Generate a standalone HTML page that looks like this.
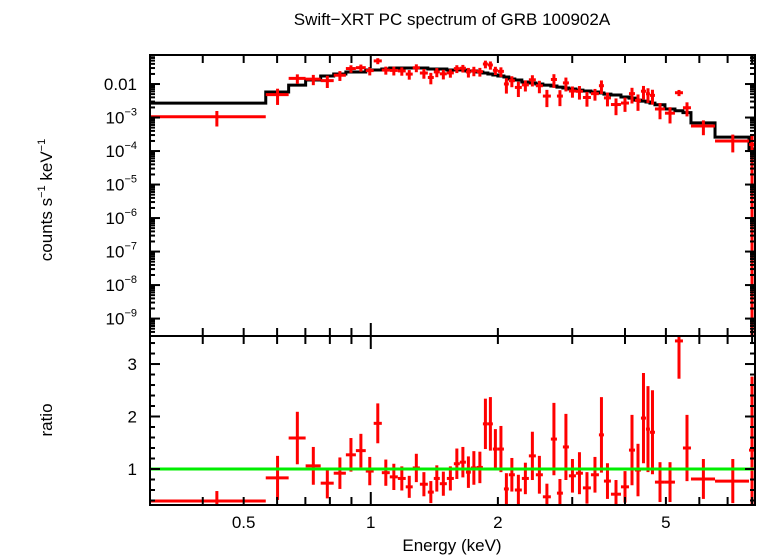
<!DOCTYPE html>
<html><head><meta charset="utf-8"><style>
html,body{margin:0;padding:0;background:#fff;}
svg{display:block;font-family:"Liberation Sans",sans-serif;}
</style></head><body>
<svg id="chart" width="758" height="556" viewBox="0 0 758 556">
<text x="452" y="25" font-size="17" text-anchor="middle">Swift−XRT PC spectrum of GRB 100902A</text>
<text x="452" y="551" font-size="17" text-anchor="middle">Energy (keV)</text>
<text transform="translate(52,420) rotate(-90)" font-size="17" text-anchor="middle">ratio</text>
<text transform="translate(52,200) rotate(-90)" font-size="17" text-anchor="middle">counts s<tspan font-size="11" dy="-7">−1</tspan><tspan dy="7"> keV</tspan><tspan font-size="11" dy="-7">−1</tspan></text>
<g id="topPanel"></g><g id="botPanel"></g>
</svg>
<script>
const edges=[0.30,0.564,0.639,0.701,0.761,0.817,0.873,0.922,0.973,1.016,1.062,1.109,1.159,1.210,1.257,1.307,1.365,1.410,1.457,1.514,1.573,1.625,1.680,1.726,1.783,1.843,1.894,1.946,2.000,2.067,2.123,2.194,2.279,2.368,2.460,2.556,2.670,2.760,2.851,2.946,3.061,3.180,3.322,3.470,3.566,3.705,3.913,4.088,4.224,4.364,4.485,4.584,4.710,4.974,5.253,5.487,5.732,6.536,7.866,8.128];
const model=[2.7e-3,5.8e-3,9.3e-3,0.0132,0.0173,0.0199,0.0228,0.0228,0.0262,0.0262,0.0280,0.0300,0.0300,0.0300,0.0300,0.0300,0.0280,0.0280,0.0280,0.0262,0.0262,0.0262,0.0244,0.0244,0.0228,0.0213,0.0199,0.0186,0.0173,0.0162,0.0141,0.0132,0.0115,0.0107,0.0100,0.0093,0.0087,0.0081,0.0076,0.0071,0.0066,0.0062,0.0058,0.0054,0.0050,0.0047,0.0041,0.0038,0.0033,0.0031,0.0029,0.0027,0.0024,0.0018,0.0016,0.0014,6.9e-4,2.6e-4,1.15e-4];
const ratio=[0.39,0.83,1.59,1.06,0.73,0.92,1.27,1.35,0.96,1.87,0.93,0.85,0.82,0.66,1.02,0.71,0.56,0.82,0.72,0.82,1.10,1.13,0.94,1.02,1.03,1.86,1.86,1.38,1.38,0.62,0.89,0.60,0.82,1.25,0.89,0.47,1.57,0.54,1.42,0.87,0.92,0.64,0.89,1.65,0.77,0.52,0.66,1.36,0.98,1.97,1.76,1.70,0.75,0.75,3.44,1.40,0.81,0.77,1.36];
const ratioErr=[0.19,0.42,0.50,0.36,0.29,0.30,0.32,0.32,0.27,0.38,0.25,0.25,0.23,0.21,0.27,0.23,0.21,0.25,0.23,0.23,0.29,0.29,0.30,0.32,0.30,0.48,0.51,0.38,0.44,0.30,0.32,0.29,0.30,0.46,0.36,0.25,0.69,0.27,0.63,0.32,0.40,0.30,0.34,0.72,0.34,0.27,0.30,0.67,0.50,0.86,0.82,0.80,0.38,0.38,0.72,0.63,0.38,0.42,1.4];
const yTickLabels=["0.01","10|−3","10|−4","10|−5","10|−6","10|−7","10|−8","10|−9"];
const xTickLabels=["0.5","1","2","5"];
const xLabelVals=[0.5,1,2,5];
const ratioTicks=[1,2,3];

const NS="http://www.w3.org/2000/svg";
const L=150,R=755,T1=55,B1=336,T2=336,B2=505;
const X0=0.3,X1=8.128;
const sx=e=>L+(Math.log10(e)-Math.log10(X0))/(Math.log10(X1)-Math.log10(X0))*(R-L);
const LT=Math.log10(0.0735),LB=-9.52;
const sy=v=>{const l=Math.log10(Math.max(v,1e-12));return Math.min(B1,T1+(LT-l)/(LT-LB)*(B1-T1));};
const RT=3.534,RB=0.314;
const sr=r=>Math.max(T2,Math.min(B2,T2+(RT-r)/(RT-RB)*(B2-T2)));
function mk(tag,attrs,parent){const e=document.createElementNS(NS,tag);for(const k in attrs)e.setAttribute(k,attrs[k]);parent.appendChild(e);return e;}
const gTop=document.getElementById('topPanel'),gBot=document.getElementById('botPanel');

let d="";
for(let i=0;i<model.length;i++){const y=sy(model[i]);d+=(i?"L":"M")+sx(edges[i])+","+y+"L"+sx(edges[i+1])+","+y;}
const ml=mk('path',{d:d,fill:'none',stroke:'#000','stroke-width':3},gTop);



for(let i=0;i<model.length;i++){
  const xa=sx(edges[i]),xb=sx(edges[i+1]),xc=sx((edges[i]+edges[i+1])/2);
  const v=model[i]*ratio[i],ev=model[i]*ratioErr[i];
  const g=mk('g',{stroke:'#f00','stroke-width':3},gTop);
  
  
  mk('line',{x1:xa,x2:xb,y1:sy(v),y2:sy(v)},g);
  mk('line',{x1:xc,x2:xc,y1:sy(v+ev),y2:(v-ev>0?sy(v-ev):B1)},g);
  const g2=mk('g',{stroke:'#f00','stroke-width':3},gBot);
  
  
  mk('line',{x1:xa,x2:xb,y1:sr(ratio[i]),y2:sr(ratio[i])},g2);
  mk('line',{x1:xc,x2:xc,y1:sr(ratio[i]+ratioErr[i]),y2:sr(ratio[i]-ratioErr[i])},g2);
}
const gl=mk('line',{x1:L,x2:R,y1:sr(1),y2:sr(1),stroke:'#0e0','stroke-width':3},gBot);



const svg=document.getElementById('chart');
for(const [t,b,n] of [[T1,B1,'top-frame'],[T2,B2,'ratio-frame']]){
  const f=mk('rect',{x:L,y:t,width:R-L,height:b-t,fill:'none',stroke:'#000','stroke-width':2},svg);
  
  
}
const ax=mk('g',{stroke:'#000','stroke-width':2},svg);


const xt=[0.3,0.4,0.5,0.6,0.7,0.8,0.9,1,2,3,4,5,6,7,8];
for(const e of xt){const x=sx(e),len=e===1?13:8;
  for(const [t,b] of [[T1,B1],[T2,B2]]){mk('line',{x1:x,x2:x,y1:t,y2:t+len},ax);mk('line',{x1:x,x2:x,y1:b,y2:b-len},ax);}}
for(let p=-10;p<=-1;p++){for(let m=1;m<10;m++){const v=m*Math.pow(10,p);const y=sy(v);if(y<=T1||y>=B1)continue;const len=m===1?10:5;
  mk('line',{x1:L,x2:L+len,y1:y,y2:y},ax);mk('line',{x1:R,x2:R-len,y1:y,y2:y},ax);}}
for(let r=0.4;r<3.53;r+=0.2){const y=sr(r);const maj=Math.abs(r-Math.round(r))<0.01;const len=maj?10:5;
  mk('line',{x1:L,x2:L+len,y1:y,y2:y},ax);mk('line',{x1:R,x2:R-len,y1:y,y2:y},ax);}
yTickLabels.forEach((s,i)=>{const y=sy(Math.pow(10,-2-i));
  const t=mk('text',{x:137,y:y+6,'font-size':17,'text-anchor':'end'},svg);
  
  
  const p=s.split('|');
  if(p.length===1)t.textContent=s;else{t.textContent=p[0];const sp=mk('tspan',{'font-size':11,dy:-8},t);sp.textContent=p[1];}
});
ratioTicks.forEach(r=>{const t=mk('text',{x:137,y:sr(r)+6,'font-size':17,'text-anchor':'end'},svg);t.textContent=String(r);
  
  });
xTickLabels.forEach((s,i)=>{const t=mk('text',{x:sx(xLabelVals[i]),y:528,'font-size':17,'text-anchor':'middle'},svg);t.textContent=s;
  
  });
</script>
</body></html>
